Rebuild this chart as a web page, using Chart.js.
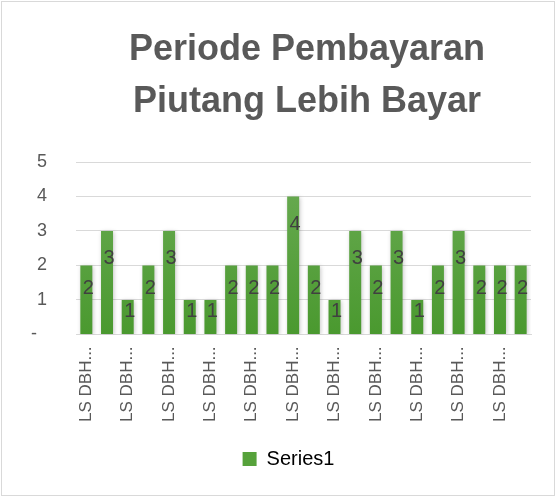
<!DOCTYPE html>
<html>
<head>
<meta charset="utf-8">
<script src="https://cdn.jsdelivr.net/npm/chart.js@4/dist/chart.umd.min.js"></script>
<style>
  html, body { margin: 0; padding: 0; background: #fff; }
  .frame {
    position: absolute; left: 1px; top: 1px;
    width: 554px; height: 495px;
    box-sizing: border-box;
    border: 1px solid #d9d9d9;
  }
  #piutangChart { position: absolute; left: 0; top: 0; }
</style>
</head>
<body>
<div class="frame"></div>
<canvas id="piutangChart" width="556" height="497"></canvas>
<script>
// data chart
const titleLines = ['Periode Pembayaran', 'Piutang Lebih Bayar'];
const categories = [
  'LS DBH...', 'LS DBH...', 'LS DBH...', 'LS DBH...', 'LS DBH...', 'LS DBH...',
  'LS DBH...', 'LS DBH...', 'LS DBH...', 'LS DBH...', 'LS DBH...', 'LS DBH...',
  'LS DBH...', 'LS DBH...', 'LS DBH...', 'LS DBH...', 'LS DBH...', 'LS DBH...',
  'LS DBH...', 'LS DBH...', 'LS DBH...', 'LS DBH...'
];
const series1 = [2, 3, 1, 2, 3, 1, 1, 2, 2, 2, 4, 2, 1, 3, 2, 3, 1, 2, 3, 2, 2, 2];
const yTicks = [0, 1, 2, 3, 4, 5];

const textColor = '#595959';
const gridColor = '#d9d9d9';
const barSolid = '#56a23b';
const fontFamily = '"Liberation Sans", sans-serif';

// gradient hijau untuk batang
function barGradient(context) {
  const chart = context.chart;
  const area = chart.chartArea;
  if (!area) return barSolid;
  const g = chart.ctx.createLinearGradient(0, area.top, 0, area.bottom);
  g.addColorStop(0, '#6cac55');
  g.addColorStop(1, '#4a992f');
  return g;
}

// judul digambar manual supaya posisinya sama dengan referensi
const chartTitle = {
  id: 'chartTitle',
  afterDraw(chart) {
    const ctx = chart.ctx;
    ctx.save();
    ctx.font = 'bold 36px ' + fontFamily;
    ctx.fillStyle = textColor;
    ctx.textAlign = 'center';
    ctx.textBaseline = 'alphabetic';
    ctx.fillText(titleLines[0], 307, 60);
    ctx.fillText(titleLines[1], 307, 112);
    ctx.restore();
  }
};

// geser legend sedikit ke kanan
const legendShift = {
  id: 'legendShift',
  afterLayout(chart) {
    if (!chart.legend) return;
    chart.legend.left += 23;
    chart.legend.right += 23;
  }
};

// bayangan tipis di belakang batang
const barShadow = {
  id: 'barShadow',
  beforeDatasetsDraw(chart) {
    const ctx = chart.ctx;
    ctx.save();
    ctx.shadowColor = 'rgba(0, 0, 0, 0.22)';
    ctx.shadowBlur = 4;
    ctx.shadowOffsetX = 1;
    ctx.shadowOffsetY = 1;
  },
  afterDatasetsDraw(chart) {
    chart.ctx.restore();
  }
};

// label nilai di dalam batang
const valueLabels = {
  id: 'valueLabels',
  afterDatasetsDraw(chart) {
    const ctx = chart.ctx;
    const meta = chart.getDatasetMeta(0);
    ctx.save();
    ctx.font = '20px ' + fontFamily;
    ctx.fillStyle = '#404040';
    ctx.textAlign = 'center';
    ctx.textBaseline = 'middle';
    meta.data.forEach((bar, i) => {
      const h = bar.base - bar.y;
      const off = Math.min(28, h / 3);
      ctx.fillText(String(series1[i]), bar.x + 2, bar.y + off);
    });
    ctx.restore();
  }
};

const ctx = document.getElementById('piutangChart');

new Chart(ctx, {
  type: 'bar',
  data: {
    labels: categories,
    datasets: [{
      label: 'Series1',
      data: series1,
      backgroundColor: barGradient,
      borderWidth: 0,
      categoryPercentage: 1,
      barPercentage: 0.58
    }]
  },
  options: {
    responsive: false,
    animation: false,
    layout: { padding: { top: 162, right: 25, bottom: 18, left: 0 } },
    plugins: {
      title: { display: false },
      legend: {
        position: 'bottom',
        labels: {
          color: textColor,
          boxWidth: 14,
          boxHeight: 14,
          padding: 10,
          font: { size: 20, family: fontFamily },
          generateLabels: () => [{
            text: 'Series1',
            fillStyle: barSolid,
            strokeStyle: barSolid,
            lineWidth: 0,
            hidden: false,
            datasetIndex: 0
          }]
        }
      },
      tooltip: { enabled: false }
    },
    scales: {
      y: {
        min: 0,
        max: 5,
        afterBuildTicks: (scale) => { scale.ticks = yTicks.map(v => ({ value: v })); },
        afterFit: (scale) => { scale.width = 76; },
        border: { display: false },
        grid: { color: gridColor, drawTicks: false },
        ticks: {
          color: textColor,
          padding: 29,
          font: { size: 18, family: fontFamily },
          callback: (v) => v === 0 ? '-  ' : String(v)
        }
      },
      x: {
        afterFit: (scale) => { scale.height += 13; },
        border: { color: gridColor },
        grid: { display: false },
        ticks: {
          color: textColor,
          autoSkip: false,
          minRotation: 90,
          maxRotation: 90,
          padding: 4,
          font: { size: 17, family: fontFamily },
          callback: function (v, i) { return i % 2 === 0 ? this.getLabelForValue(v) : ''; }
        }
      }
    }
  },
  plugins: [barShadow, valueLabels, chartTitle, legendShift]
});
</script>
</body>
</html>
